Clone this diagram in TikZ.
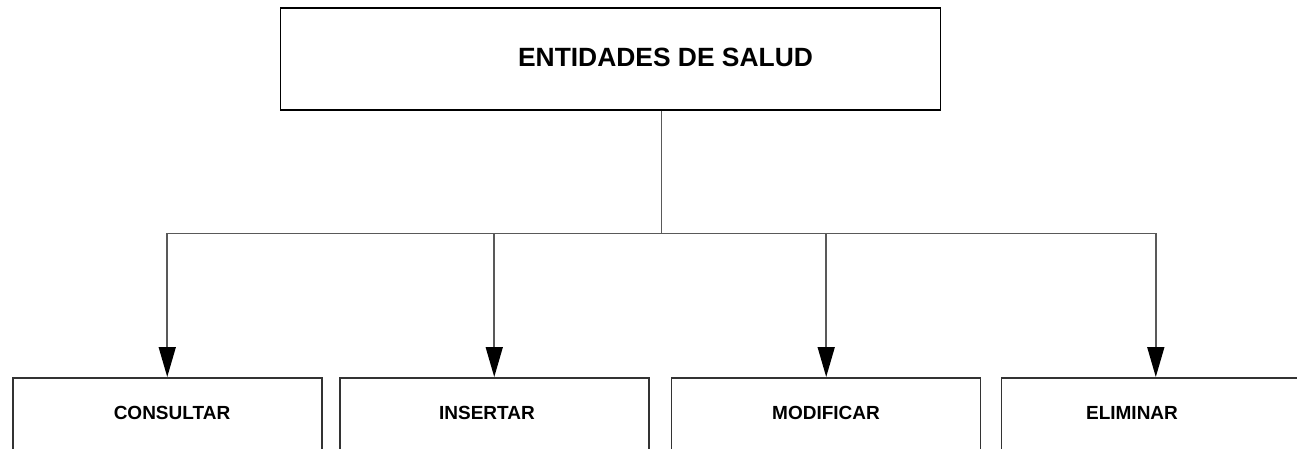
\documentclass[tikz,border=0pt]{standalone}
\usepackage{fontspec}
\setmainfont{Liberation Sans}
\usetikzlibrary{arrows.meta}
\begin{document}
\begin{tikzpicture}[x=0.5pt,y=-0.5pt,
  topbox/.style={draw=black,line width=0.9pt,minimum width=330pt,minimum height=51pt,inner sep=0pt},
  subbox/.style={draw=black!80,line width=0.75pt,anchor=north,minimum width=154.5pt,minimum height=60pt,inner sep=0pt},
  lbl/.style={font=\bfseries\fontsize{9.5}{11}\selectfont,inner sep=0pt},
  conn/.style={draw=black!65,line width=0.8pt},
  arr/.style={conn,-{Triangle[length=15pt,width=8.5pt,black]}}]
\clip (0,0) rectangle (1297,449);
\fill[white] (0,0) rectangle (1297,449);
\node[topbox] (top) at (610.5,58.75) {};
\node[font=\bfseries\fontsize{13.2}{15}\selectfont,inner sep=0pt] (toplbl) at (665.5,57) {ENTIDADES DE SALUD};
\node[subbox] (b1) at (167.25,377) {};
\node[subbox] (b2) at (494.25,377) {};
\node[subbox] (b3) at (826.2,377) {};
\node[subbox] (b4) at (1155.8,377) {};
\node[lbl] (l1) at (172,413) {CONSULTAR};
\node[lbl] (l2) at (487,413) {INSERTAR};
\node[lbl] (l3) at (826,413) {MODIFICAR};
\node[lbl] (l4) at (1132,413) {ELIMINAR};
\coordinate (j) at (661.5,233.5);
\path[conn] (top.south -| j) -- (j);
\path[conn] (b1.north |- j) -- (b4.north |- j);
\path[arr] (b1.north |- j) -- (b1.north);
\path[arr] (b2.north |- j) -- (b2.north);
\path[arr] (b3.north |- j) -- (b3.north);
\path[arr] (b4.north |- j) -- (b4.north);
\end{tikzpicture}
\end{document}
